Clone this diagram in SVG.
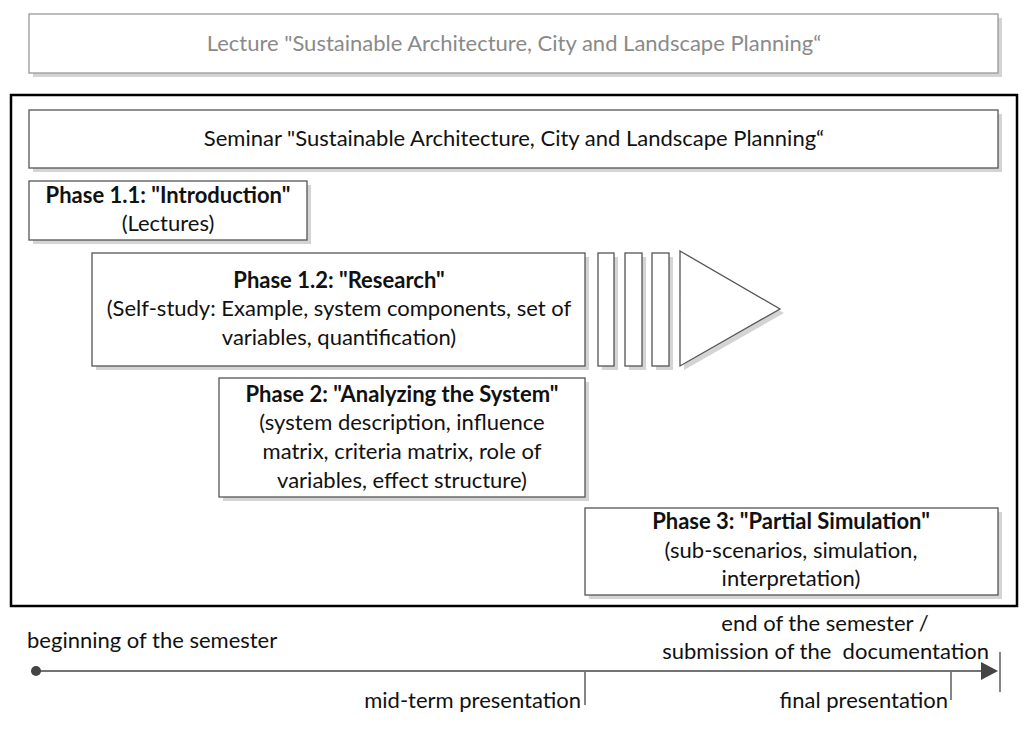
<svg xmlns="http://www.w3.org/2000/svg" width="1024" height="735" viewBox="0 0 1024 735">
<style>
.box{fill:#fff;stroke:#555;stroke-width:1.3}
.sh{fill:#d4d4d4;stroke:none}
.t{font-family:Lato,"Liberation Sans",sans-serif;font-size:22px;fill:#111;text-anchor:middle}
.b{font-weight:bold}
.g{fill:#8a8a8a}
.l{stroke:#444;stroke-width:1.3;fill:none}
</style>
<rect width="1024" height="735" fill="#fff"/>
<g id="lecture">
<rect class="sh" x="33" y="18" width="969" height="59"/>
<rect class="box" x="29" y="14" width="969" height="59" style="stroke:#999"/>
<text class="t g" x="514" y="51">Lecture "Sustainable Architecture, City and Landscape Planning“</text>
</g>
<g id="seminar-frame">
<rect x="11" y="95" width="1006" height="511" fill="none" stroke="#000" stroke-width="2.5"/>
</g>
<g id="seminar">
<rect class="sh" x="33" y="114" width="969" height="58"/>
<rect class="box" x="29" y="110" width="969" height="58"/>
<text class="t" x="514" y="146">Seminar "Sustainable Architecture, City and Landscape Planning“</text>
</g>
<g id="phase11">
<rect class="sh" x="33" y="185" width="278" height="59"/>
<rect class="box" x="29" y="181" width="278" height="59"/>
<text class="t b" x="168" y="203">Phase 1.1: "Introduction"</text>
<text class="t" x="168" y="231">(Lectures)</text>
</g>
<g id="phase12">
<rect class="sh" x="96" y="257" width="493" height="113"/>
<rect class="box" x="92" y="253" width="493" height="113"/>
<text class="t b" x="339" y="288">Phase 1.2: "Research"</text>
<text class="t" x="339" y="316">(Self-study: Example, system components, set of</text>
<text class="t" x="339" y="345">variables, quantification)</text>
</g>
<g id="progress-arrow">
<rect class="sh" x="602" y="257" width="16" height="113"/>
<rect class="sh" x="629" y="257" width="17" height="113"/>
<rect class="sh" x="656" y="257" width="17" height="113"/>
<polygon class="sh" points="684,255 784,313 684,370"/>
<rect class="box" x="598" y="253" width="16" height="113"/>
<rect class="box" x="625" y="253" width="17" height="113"/>
<rect class="box" x="652" y="253" width="17" height="113"/>
<polygon class="box" points="680,251 780,309 680,366"/>
</g>
<g id="phase2">
<rect class="sh" x="223" y="382" width="366" height="119"/>
<rect class="box" x="219" y="378" width="366" height="119"/>
<text class="t b" x="402" y="402">Phase 2: "Analyzing the System"</text>
<text class="t" x="402" y="430">(system description, influence</text>
<text class="t" x="402" y="459">matrix, criteria matrix, role of</text>
<text class="t" x="402" y="488">variables, effect structure)</text>
</g>
<g id="phase3">
<rect class="sh" x="589" y="512" width="413" height="87"/>
<rect class="box" x="585" y="508" width="413" height="87"/>
<text class="t b" x="791" y="529">Phase 3: "Partial Simulation"</text>
<text class="t" x="791" y="558">(sub-scenarios, simulation,</text>
<text class="t" x="791" y="586">interpretation)</text>
</g>
<g id="connectors">
<line class="l" x1="36" y1="671" x2="985" y2="671"/>
<circle cx="36" cy="671" r="5" fill="#444"/>
<polygon points="981,662 998,671 981,680" fill="#444"/>
<line class="l" x1="1000" y1="652" x2="1000" y2="692"/>
<line class="l" x1="585" y1="672" x2="585" y2="705"/>
<line class="l" x1="951" y1="672" x2="951" y2="700"/>
</g>
<g id="timeline-labels">
<text class="t" x="27" y="648" style="text-anchor:start">beginning of the semester</text>
<text class="t" x="581" y="708" style="text-anchor:end">mid-term presentation</text>
<text class="t" x="948" y="708" style="text-anchor:end">final presentation</text>
<text class="t" x="825" y="631">end of the semester /</text>
<text class="t" x="989" y="659" style="text-anchor:end">submission of the&#160; documentation</text>
</g>
</svg>
